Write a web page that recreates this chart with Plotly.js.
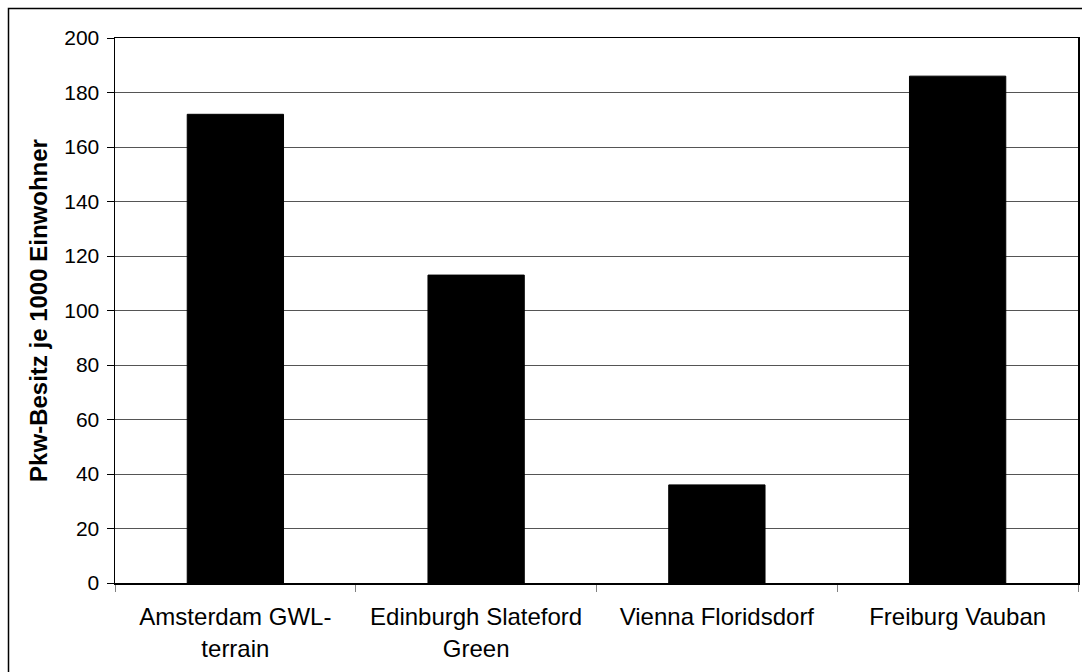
<!DOCTYPE html>
<html>
<head>
<meta charset="utf-8">
<script src="https://cdn.plot.ly/plotly-3.0.1.min.js"></script>
<style>
html,body{margin:0;padding:0;background:#fff;}
#chart{width:1082px;height:672px;}
</style>
</head>
<body>
<div id="chart"></div>
<script>
const categories = ["Amsterdam GWL-<br>terrain", "Edinburgh Slateford<br>Green", "Vienna Floridsdorf", "Freiburg Vauban"];
const values = [172, 113, 36, 186];
const yTickValues = [0, 20, 40, 60, 80, 100, 120, 140, 160, 180, 200];
const yTitle = "Pkw-Besitz je 1000 Einwohner";

const W = 1082, H = 672;
const M = {l: 115, r: 4, t: 38, b: 89};
const pw = W - M.l - M.r, ph = H - M.t - M.b;
const px = v => (v - M.l) / pw;
const py = v => (H - M.b - v) / ph;
const FONT = '"Liberation Sans", Arial, sans-serif';

const trace = {
  type: 'bar',
  x: categories,
  y: values,
  marker: {color: '#000000', line: {color: '#000000', width: 1}},
  hoverinfo: 'x+y'
};

const layout = {
  width: W, height: H,
  margin: M,
  paper_bgcolor: '#ffffff',
  plot_bgcolor: '#ffffff',
  showlegend: false,
  bargap: 0.6,
  font: {family: FONT, color: '#000'},
  xaxis: {
    type: 'category',
    tickson: 'boundaries',
    ticks: 'outside',
    ticklen: 7,
    tickcolor: '#808080',
    tickwidth: 1,
    ticklabelstandoff: 12,
    showgrid: false,
    showline: true,
    linecolor: '#000',
    linewidth: 1.5,
    mirror: true,
    tickfont: {size: 24, family: FONT, color: '#000'},
    automargin: false
  },
  yaxis: {
    range: [0, 200],
    tickvals: yTickValues,
    ticktext: yTickValues.map(String),
    ticks: 'outside',
    ticklen: 7,
    tickcolor: '#000',
    ticklabelstandoff: 3,
    showgrid: true,
    gridcolor: '#555555',
    gridwidth: 1,
    zeroline: false,
    showline: true,
    linecolor: '#000',
    linewidth: 1.5,
    mirror: true,
    tickfont: {size: 21, family: FONT, color: '#000'},
    title: {text: yTitle, font: {size: 24, family: FONT, color: '#000', weight: 'bold'}, standoff: 10},
    automargin: false
  },
  shapes: [{
    type: 'rect', xref: 'paper', yref: 'paper',
    x0: px(8.5), x1: px(W + 20), y0: py(8.5), y1: py(H + 20),
    line: {color: '#000', width: 1.5}, fillcolor: 'rgba(0,0,0,0)', layer: 'below'
  }]
};

Plotly.newPlot('chart', [trace], layout, {displayModeBar: false, staticPlot: true});
</script>
</body>
</html>
